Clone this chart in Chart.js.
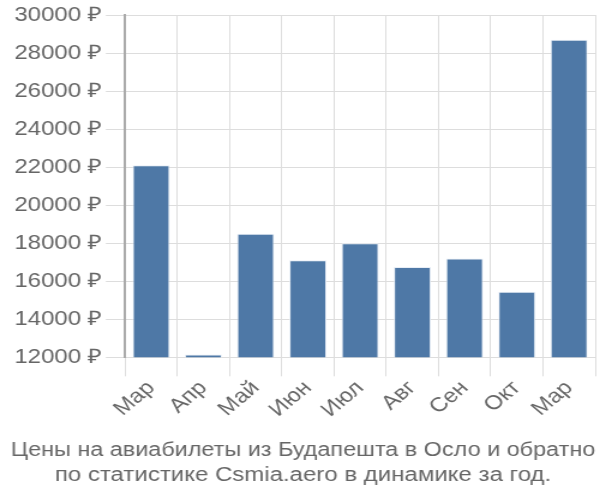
<!DOCTYPE html>
<html>
<head>
<meta charset="utf-8">
<script src="https://cdn.jsdelivr.net/npm/chart.js@4"></script>
<style>
  html, body { margin: 0; padding: 0; background: #fff; overflow: hidden; }
  /* the reference is drawn a bit wide, so the 500px chart is stretched to 600px */
  #wrap { width: 500px; height: 500px; transform: scaleX(1.2); transform-origin: 0 0; }
</style>
</head>
<body>
<div id="wrap"><canvas id="priceChart"></canvas></div>
<script>
/* ---------- data ---------- */
const months = ["Мар", "Апр", "Май", "Июн", "Июл", "Авг", "Сен", "Окт", "Мар"];
const prices = [22100, 12150, 18500, 17100, 18000, 16750, 17200, 15450, 28700];
const titleLines = [
  "Цены на авиабилеты из Будапешта в Осло и обратно",
  "по статистике Csmia.aero в динамике за год."
];

const textColor = "#666";
const gridColor = "#ddd";

Chart.defaults.font.family = "'Liberation Sans', Arial, sans-serif";

new Chart(document.getElementById("priceChart"), {
  type: "bar",
  data: {
    labels: months,
    datasets: [{
      data: prices,
      backgroundColor: "#4e78a6",
      borderColor: "#e8eef6",
      borderWidth: 1,
      categoryPercentage: 0.71,
      barPercentage: 1
    }]
  },
  options: {
    responsive: true,
    maintainAspectRatio: false,
    animation: false,
    layout: { padding: { left: 9, right: 4, top: 4, bottom: 0 } },
    plugins: {
      legend: { display: false },
      tooltip: { enabled: false },
      title: {
        display: true,
        position: "bottom",
        text: titleLines,
        color: textColor,
        font: { size: 20, weight: "normal", lineHeight: 1.25 },
        padding: { top: 16, bottom: 12 }
      }
    },
    scales: {
      x: {
        grid: { color: gridColor, tickLength: 19 },
        border: { color: gridColor },
        ticks: {
          color: textColor,
          font: { size: 20 },
          maxRotation: 45,
          minRotation: 45,
          padding: 0
        }
      },
      y: {
        min: 12000,
        max: 30000,
        grid: { color: gridColor, tickLength: 16 },
        border: { color: "#aaa", width: 2 },
        ticks: {
          stepSize: 2000,
          color: textColor,
          font: { size: 20 },
          padding: 3,
          callback: v => v + " ₽"
        }
      }
    }
  }
});
</script>
</body>
</html>
